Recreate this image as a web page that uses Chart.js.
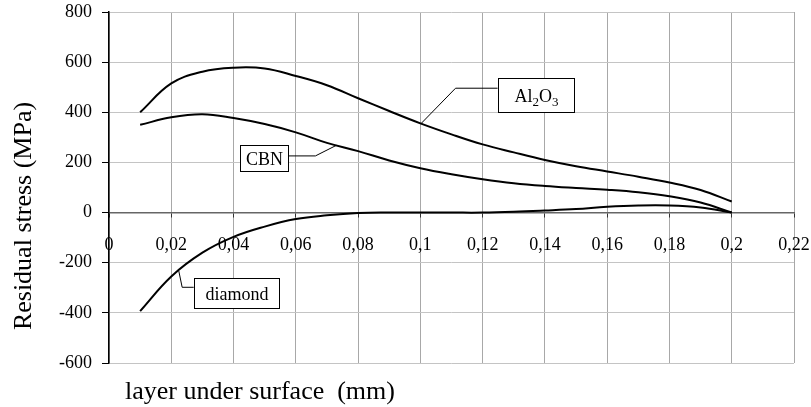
<!DOCTYPE html>
<html>
<head>
<meta charset="utf-8">
<script src="https://cdn.jsdelivr.net/npm/chart.js@4.4.1/dist/chart.umd.min.js"></script>
<style>
  html, body { margin: 0; padding: 0; background: #fff; }
</style>
</head>
<body>
<canvas id="stressChart" width="811" height="407"></canvas>
<script>
// depth below the machined surface, mm
const depth = [0.01, 0.02, 0.03, 0.04, 0.05, 0.06, 0.07, 0.08, 0.09, 0.10,
               0.11, 0.12, 0.13, 0.14, 0.15, 0.16, 0.17, 0.18, 0.19, 0.20];

// residual stress, MPa
const al2o3   = [400, 515, 562, 578, 575, 545, 508, 456, 405, 356,
                 312, 272, 240, 210, 185, 164, 143, 120, 90, 44];
const cbn     = [350, 380, 392, 377, 353, 320, 278, 245, 208, 177,
                 153, 133, 117, 106, 98, 91, 81, 65, 40, 0];
const diamond = [-393, -255, -160, -97, -56, -26, -11, -2, 0, 0,
                 0, 0, 3, 8, 14, 23, 28, 28, 20, 0];

const xTicks = [0, 0.02, 0.04, 0.06, 0.08, 0.1, 0.12, 0.14, 0.16, 0.18, 0.2, 0.22];
const xTickLabels = ["0", "0,02", "0,04", "0,06", "0,08", "0,1", "0,12", "0,14", "0,16", "0,18", "0,2", "0,22"];
const yTicks = [-600, -400, -200, 0, 200, 400, 600, 800];

const serif = '"Liberation Serif", "Times New Roman", serif';

function series(values) {
  return values.map((v, i) => ({ x: depth[i], y: v }));
}

function curve(label, values) {
  return {
    label: label,
    data: series(values),
    borderColor: "#000",
    borderWidth: 2,
    pointRadius: 0,
    fill: false,
    tension: 0.4,
  };
}

// boxed labels with leader lines, placed in data units
const callouts = [
  {
    parts: [["Al", 0], ["2", 1], ["O", 0], ["3", 1]],
    box: [0.1248, 537, 0.1492, 401],
    leader: [[0.1003, 356], [0.1113, 496], [0.1248, 496]],
  },
  {
    parts: [["CBN", 0]],
    box: [0.042, 270, 0.0574, 166],
    leader: [[0.0574, 226], [0.0663, 226], [0.073, 268]],
  },
  {
    parts: [["diamond", 0]],
    box: [0.0272, -261, 0.0545, -381],
    leader: [[0.0224, -232], [0.0235, -298], [0.0272, -298]],
  },
];

const decorations = {
  id: "decorations",
  afterDraw(chart) {
    const ctx = chart.ctx;
    const xs = chart.scales.x;
    const ys = chart.scales.y;
    ctx.save();

    callouts.forEach((c) => {
      ctx.strokeStyle = "#000";
      ctx.lineWidth = 1;
      ctx.beginPath();
      c.leader.forEach((p, i) => {
        const px = xs.getPixelForValue(p[0]);
        const py = ys.getPixelForValue(p[1]);
        if (i === 0) ctx.moveTo(px, py); else ctx.lineTo(px, py);
      });
      ctx.stroke();

      const l = Math.round(xs.getPixelForValue(c.box[0])) + 0.5;
      const t = Math.round(ys.getPixelForValue(c.box[1])) + 0.5;
      const r = Math.round(xs.getPixelForValue(c.box[2])) + 0.5;
      const b = Math.round(ys.getPixelForValue(c.box[3])) + 0.5;
      ctx.fillStyle = "#fff";
      ctx.fillRect(l, t, r - l, b - t);
      ctx.strokeRect(l, t, r - l, b - t);

      let width = 0;
      c.parts.forEach(([s, sub]) => {
        ctx.font = (sub ? "13px " : "18px ") + serif;
        width += ctx.measureText(s).width;
      });
      let x = (l + r) / 2 - width / 2;
      const base = (t + b) / 2 + 6;
      ctx.fillStyle = "#000";
      ctx.textBaseline = "alphabetic";
      ctx.textAlign = "left";
      c.parts.forEach(([s, sub]) => {
        ctx.font = (sub ? "13px " : "18px ") + serif;
        ctx.fillText(s, x, sub ? base + 4 : base);
        x += ctx.measureText(s).width;
      });
    });

    // axis titles
    ctx.fillStyle = "#000";
    ctx.font = "26px " + serif;
    ctx.textAlign = "left";
    ctx.textBaseline = "alphabetic";
    ctx.fillText("layer under surface  (mm)", 125, 399);

    ctx.translate(31, 216);
    ctx.rotate(-Math.PI / 2);
    ctx.textAlign = "center";
    ctx.fillText("Residual stress (MPa)", 0, 0);
    ctx.restore();
  },
};

new Chart(document.getElementById("stressChart"), {
  type: "line",
  data: {
    datasets: [
      curve("Al2O3", al2o3),
      curve("CBN", cbn),
      curve("diamond", diamond),
    ],
  },
  options: {
    responsive: false,
    animation: false,
    layout: { padding: { top: 12, right: 17, bottom: 44, left: 0 } },
    plugins: {
      legend: { display: false },
      tooltip: { enabled: false },
    },
    scales: {
      x: {
        type: "linear",
        position: { y: 0 },
        min: 0,
        max: 0.22,
        afterBuildTicks: (scale) => {
          scale.ticks = xTicks.map((v) => ({ value: v }));
        },
        afterFit: (scale) => {
          // tick labels may hang past the plot edges
          scale.paddingLeft = 0;
          scale.paddingRight = 0;
        },
        ticks: {
          callback: (v, i) => xTickLabels[i],
          color: "#000",
          padding: 18,
          maxRotation: 0,
          autoSkip: false,
          font: { family: serif, size: 18 },
        },
        grid: { color: "#a8a8a8", lineWidth: 1, tickLength: 4, tickColor: "#333" },
        border: { color: "#666", width: 1.5 },
      },
      y: {
        position: "left",
        min: -600,
        max: 800,
        afterBuildTicks: (scale) => {
          scale.ticks = yTicks.map((v) => ({ value: v }));
        },
        afterFit: (scale) => {
          scale.width = 109;
          scale.paddingTop = 0;
          scale.paddingBottom = 0;
        },
        ticks: {
          callback: (v) => String(v),
          color: "#000",
          padding: 10,
          font: { family: serif, size: 18 },
        },
        grid: { color: "#c4c4c4", lineWidth: 1, tickLength: 7, tickColor: "#000" },
        border: { color: "#000", width: 1.5 },
      },
    },
  },
  plugins: [decorations],
});
</script>
</body>
</html>
